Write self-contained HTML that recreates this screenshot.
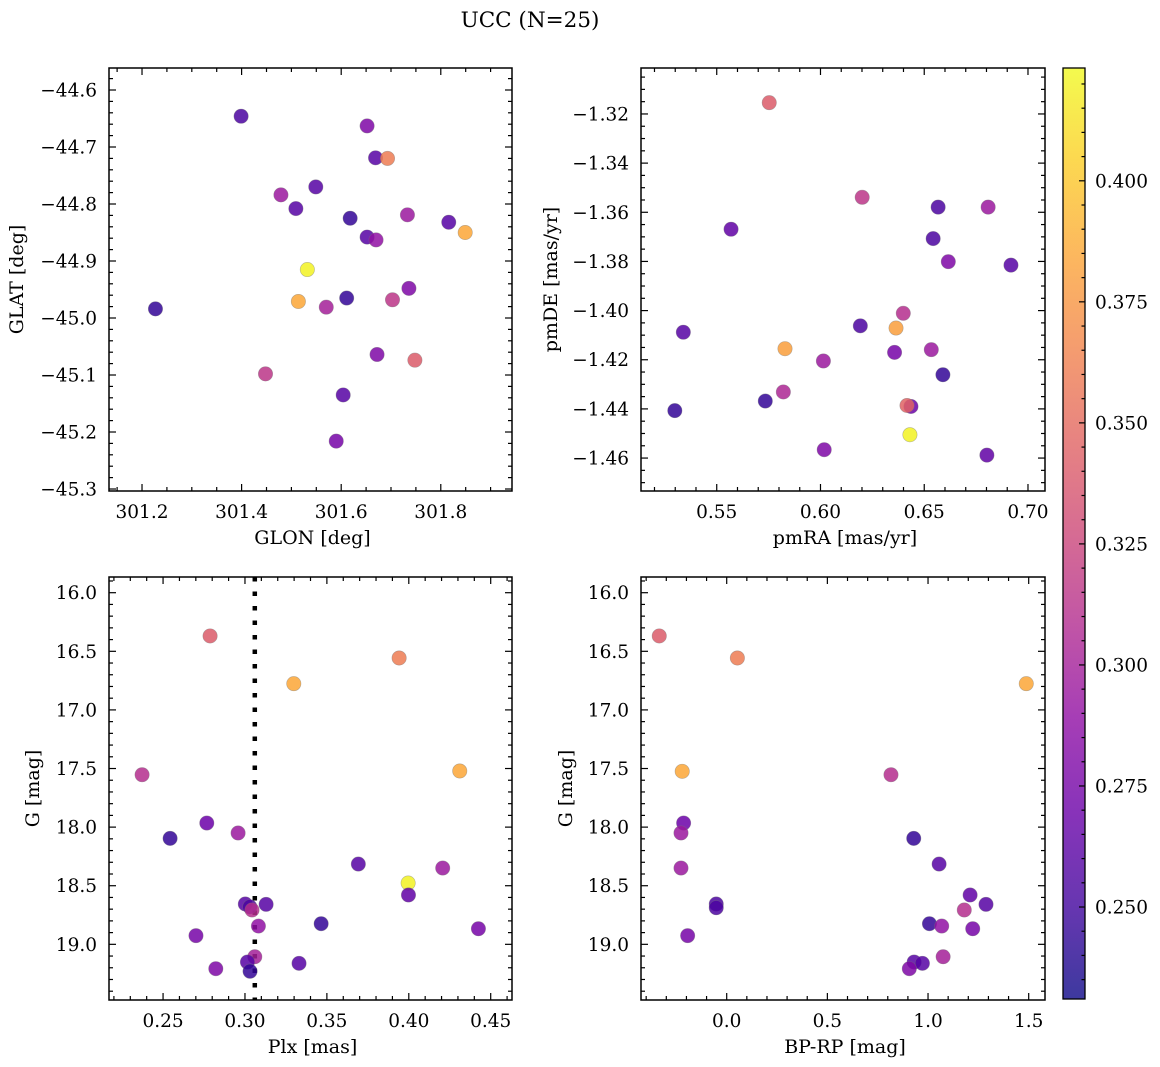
<!DOCTYPE html>
<html><head><meta charset="utf-8">
<style>
html,body{margin:0;padding:0;background:#fff;}
svg{display:block;font-family:"DejaVu Serif","Liberation Serif",serif;}
</style></head>
<body>
<svg id="fig" width="1160" height="1067" viewBox="0 0 1160 1067" xmlns="http://www.w3.org/2000/svg">
<text x="530" y="27" font-size="21.5" text-anchor="middle" fill="#000">UCC (N=25)</text>
</svg>
<script>
// ---- Panel 1: GLON vs GLAT
const p1Glon=[301.399,301.652,301.669,301.693,301.549,301.479,301.509,301.618,301.733,301.816,301.849,301.652,301.670,301.532,301.227,301.514,301.570,301.611,301.703,301.736,301.672,301.748,301.448,301.604,301.590];
const p1Glat=[-44.646,-44.663,-44.719,-44.720,-44.770,-44.784,-44.808,-44.825,-44.819,-44.832,-44.850,-44.858,-44.863,-44.915,-44.984,-44.971,-44.981,-44.965,-44.968,-44.948,-45.064,-45.074,-45.098,-45.135,-45.216];
const p1Col=[0.255,0.28,0.26,0.36,0.26,0.295,0.26,0.245,0.295,0.26,0.385,0.26,0.29,0.42,0.245,0.385,0.30,0.245,0.315,0.28,0.28,0.34,0.315,0.26,0.275];
// ---- Panel 2: pmRA vs pmDE
const p2PmRA=[0.5753,0.6201,0.6567,0.6808,0.5569,0.6543,0.6616,0.6918,0.6399,0.5339,0.6192,0.6364,0.5829,0.6014,0.6357,0.6534,0.6590,0.5821,0.5734,0.5298,0.6436,0.6417,0.6431,0.6018,0.6802];
const p2PmDE=[-1.3154,-1.3539,-1.3579,-1.3579,-1.3669,-1.3707,-1.3801,-1.3815,-1.4011,-1.4088,-1.4062,-1.4071,-1.4155,-1.4205,-1.4170,-1.4159,-1.4261,-1.4331,-1.4368,-1.4407,-1.4390,-1.4386,-1.4505,-1.4566,-1.4588];
const p2Col=[0.34,0.315,0.255,0.295,0.265,0.255,0.28,0.26,0.31,0.26,0.255,0.38,0.38,0.295,0.275,0.295,0.245,0.305,0.245,0.245,0.27,0.345,0.42,0.28,0.265];
// ---- Panel 3: Plx vs G
const p3Plx=[0.2787,0.3941,0.3298,0.2372,0.4311,0.2767,0.2543,0.2958,0.3692,0.4207,0.3996,0.3998,0.3002,0.3129,0.3030,0.3043,0.3465,0.3082,0.4425,0.2701,0.3060,0.3015,0.3330,0.2822,0.3031];
const p3G=[16.369,16.557,16.776,17.553,17.521,17.965,18.096,18.050,18.315,18.349,18.477,18.579,18.656,18.659,18.680,18.707,18.824,18.844,18.867,18.926,19.106,19.151,19.162,19.208,19.230];
const p3Col=[0.34,0.36,0.385,0.31,0.385,0.27,0.245,0.295,0.26,0.295,0.42,0.265,0.26,0.26,0.255,0.31,0.245,0.29,0.275,0.275,0.30,0.26,0.26,0.28,0.245];
// ---- Panel 4: BP-RP vs G
const p4BpRp=[-0.335,0.053,1.488,-0.221,0.816,-0.214,-0.227,0.929,-0.227,1.055,1.209,-0.052,-0.052,1.288,1.180,1.007,1.068,1.222,-0.194,1.075,0.931,0.972,0.907];
const p4G=[16.369,16.557,16.776,17.524,17.553,17.965,18.050,18.096,18.349,18.315,18.579,18.656,18.688,18.659,18.707,18.824,18.844,18.867,18.926,19.106,19.151,19.162,19.208];
const p4Col=[0.34,0.36,0.385,0.385,0.31,0.27,0.295,0.245,0.295,0.26,0.265,0.255,0.255,0.26,0.31,0.245,0.29,0.275,0.275,0.30,0.26,0.26,0.28];
const plxLine=[0.306];
// ---- Tick labels
const p1XTicks=[301.2,301.4,301.6,301.8];
const p1YTicks=[-44.6,-44.7,-44.8,-44.9,-45.0,-45.1,-45.2,-45.3];
const p2XTicks=[0.55,0.60,0.65,0.70];
const p2YTicks=[-1.32,-1.34,-1.36,-1.38,-1.40,-1.42,-1.44,-1.46];
const p3XTicks=[0.25,0.30,0.35,0.40,0.45];
const gTicks=[16.0,16.5,17.0,17.5,18.0,18.5,19.0];
const p4XTicks=[0.0,0.5,1.0,1.5];
const cbTicks=[0.250,0.275,0.300,0.325,0.350,0.375,0.400];
const cMin=0.231, cMax=0.4233;

const NS="http://www.w3.org/2000/svg";
const svg=document.getElementById('fig');
function mk(tag,attrs,parent){const e=document.createElementNS(NS,tag);for(const k in attrs)e.setAttribute(k,attrs[k]);(parent||svg).appendChild(e);return e;}
const plasma=[[13,8,135],[65,4,157],[106,0,168],[143,13,164],[177,42,144],[204,71,120],[225,100,98],[242,132,75],[252,166,54],[252,206,37],[240,249,33]];
function cmap(v){let t=(v-cMin)/(cMax-cMin);t=Math.max(0,Math.min(1,t));const f=t*10,i=Math.min(9,Math.floor(f)),r=f-i;const a=plasma[i],b=plasma[i+1];return 'rgb('+a.map((c,k)=>Math.round(c+(b[k]-c)*r)).join(',')+')';}

function panel(cfg){
  const {x0,x1,y0,y1,xmin,xmax,ymin,ymax,name}=cfg;
  const sx=v=>x0+(v-xmin)/(xmax-xmin)*(x1-x0);
  const sy=v=>y0+(v-ymin)/(ymax-ymin)*(y1-y0);
  const g=mk('g',{});
  
  
  const minorX=cfg.xminor, minorY=cfg.yminor;
  const lo=Math.min(xmin,xmax),hi=Math.max(xmin,xmax);
  for(let v=Math.ceil(lo/minorX-1e-6)*minorX; v<=hi+1e-9; v+=minorX){
    const px=sx(v); if(px<x0||px>x1)continue;
    const isMaj=cfg.xTicks.some(t=>Math.abs(t-v)<minorX/10);
    const L=isMaj?7:4;
    mk('line',{x1:px,x2:px,y1:y0,y2:y0+L,stroke:'#000','stroke-width':1.2},g);
    mk('line',{x1:px,x2:px,y1:y1,y2:y1-L,stroke:'#000','stroke-width':1.2},g);
  }
  const ylo=Math.min(ymin,ymax),yhi=Math.max(ymin,ymax);
  for(let v=Math.ceil(ylo/minorY-1e-6)*minorY; v<=yhi+1e-9; v+=minorY){
    const py=sy(v); if(py<y0||py>y1)continue;
    const isMaj=cfg.yTicks.some(t=>Math.abs(t-v)<minorY/10);
    const L=isMaj?7:4;
    mk('line',{x1:x0,x2:x0+L,y1:py,y2:py,stroke:'#000','stroke-width':1.2},g);
    mk('line',{x1:x1,x2:x1-L,y1:py,y2:py,stroke:'#000','stroke-width':1.2},g);
  }
  cfg.xTicks.forEach(t=>{
    const tx=mk('text',{x:sx(t),y:y1+27,'font-size':18.5,'text-anchor':'middle',fill:'#000'},g);
    
    
    tx.textContent=t.toFixed(cfg.xDec).replace('-','\u2212');
  });
  cfg.yTicks.forEach(t=>{
    const py=sy(t); if(py<y0-2||py>y1+2)return;
    const tx=mk('text',{x:x0-12,y:py+6.5,'font-size':18.5,'text-anchor':'end',fill:'#000'},g);
    
    
    tx.textContent=t.toFixed(cfg.yDec).replace('-','\u2212');
  });
  const xt=mk('text',{x:(x0+x1)/2+2,y:y1+53,'font-size':19,'text-anchor':'middle',fill:'#000'},g);
  
  
  xt.textContent=cfg.xLabel;
  const yt=mk('text',{x:0,y:0,'font-size':19,'text-anchor':'middle',fill:'#000',transform:'translate('+cfg.yLabelX+','+(y0+y1)/2+') rotate(-90)'},g);
  
  
  yt.textContent=cfg.yLabel;
  if(cfg.vline){
    cfg.vline.forEach(v=>{
      const ln=mk('line',{x1:sx(v),x2:sx(v),y1:y0,y2:y1,stroke:'#000','stroke-width':4.5,'stroke-dasharray':'4.5 10'},g);
      
      
    });
  }
  cfg.xs.forEach((xv,i)=>{
    const c=mk('circle',{cx:sx(xv),cy:sy(cfg.ys[i]),r:7.2,fill:cmap(cfg.cs[i]),'fill-opacity':0.85,stroke:'#777','stroke-opacity':0.5,'stroke-width':0.6},g);
    
    
  });
  const fr=mk('rect',{x:x0,y:y0,width:x1-x0,height:y1-y0,fill:'none',stroke:'#000','stroke-width':1.5},g);
  
  
}

panel({name:'glon-glat-panel',x0:109,x1:512,y0:68,y1:491,xmin:301.1337,xmax:301.943,ymin:-44.5614,ymax:-45.3035,
  xminor:0.05,yminor:0.02,xTicks:p1XTicks,yTicks:p1YTicks,xDec:1,yDec:1,xLabel:'GLON [deg]',yLabel:'GLAT [deg]',yLabelX:23,
  xs:p1Glon,ys:p1Glat,cs:p1Col});
panel({name:'pm-panel',x0:641,x1:1045,y0:68,y1:491,xmin:0.5135,xmax:0.7082,ymin:-1.3013,ymax:-1.4734,
  xminor:0.01,yminor:0.005,xTicks:p2XTicks,yTicks:p2YTicks,xDec:2,yDec:2,xLabel:'pmRA [mas/yr]',yLabel:'pmDE [mas/yr]',yLabelX:557,
  xs:p2PmRA,ys:p2PmDE,cs:p2Col});
panel({name:'plx-g-panel',x0:109,x1:512,y0:577,y1:1000,xmin:0.217,xmax:0.463,ymin:15.866,ymax:19.475,
  xminor:0.01,yminor:0.1,xTicks:p3XTicks,yTicks:gTicks,xDec:2,yDec:1,xLabel:'Plx [mas]',yLabel:'G [mag]',yLabelX:39,
  xs:p3Plx,ys:p3G,cs:p3Col,vline:plxLine});
panel({name:'cmd-panel',x0:641,x1:1045,y0:577,y1:1000,xmin:-0.4257,xmax:1.581,ymin:15.866,ymax:19.475,
  xminor:0.1,yminor:0.1,xTicks:p4XTicks,yTicks:gTicks,xDec:1,yDec:1,xLabel:'BP-RP [mag]',yLabel:'G [mag]',yLabelX:572,
  xs:p4BpRp,ys:p4G,cs:p4Col});

// ---- Colorbar
(function(){
  const cx0=1063,cx1=1085,cy0=68,cy1=999;
  const cy=v=>cy1-(v-cMin)/(cMax-cMin)*(cy1-cy0);
  const g=mk('g',{});
  
  
  const defs=mk('defs',{},g);
  const lg=mk('linearGradient',{id:'cbg',x1:0,y1:1,x2:0,y2:0},defs);
  plasma.forEach((c,i)=>mk('stop',{offset:(i/10),'stop-color':'rgb('+c.join(',')+')'},lg));
  mk('rect',{x:cx0,y:cy0,width:cx1-cx0,height:cy1-cy0,fill:'url(#cbg)','fill-opacity':0.8},g);
  for(let v=Math.ceil(cMin/0.005)*0.005; v<=cMax; v+=0.005){
    const py=cy(v);
    const isMaj=cbTicks.some(t=>Math.abs(t-v)<0.0005);
    mk('line',{x1:cx1,x2:cx1-(isMaj?6:3.5),y1:py,y2:py,stroke:'#000','stroke-width':1.2},g);
  }
  cbTicks.forEach(t=>{
    const tx=mk('text',{x:cx1+10,y:cy(t)+6.5,'font-size':18.5,fill:'#000'},g);
    
    
    tx.textContent=t.toFixed(3);
  });
  mk('rect',{x:cx0,y:cy0,width:cx1-cx0,height:cy1-cy0,fill:'none',stroke:'#000','stroke-width':1.3},g);
})();
</script>
</body></html>
